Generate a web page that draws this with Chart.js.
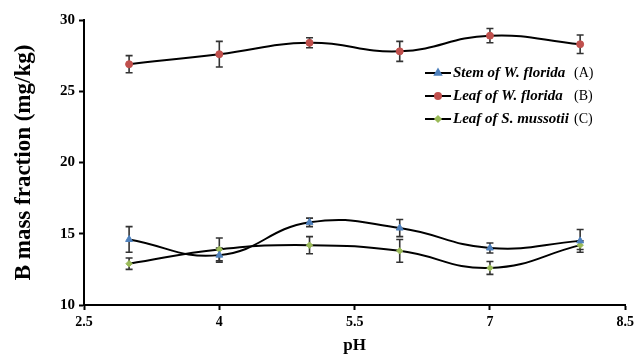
<!DOCTYPE html>
<html>
<head>
<meta charset="utf-8">
<script src="https://cdn.jsdelivr.net/npm/chart.js@4/dist/chart.umd.min.js"></script>
<style>
html,body{margin:0;padding:0;background:#fff;}
#wrap{width:638px;height:356px;position:relative;}
</style>
</head>
<body>
<div id="wrap"><canvas id="c" width="638" height="356"></canvas></div>
<script>
const phValues = [3, 4, 5, 6, 7, 8];
const stemA = [14.6, 13.5, 15.8, 15.4, 14.0, 14.5];
const stemAErr = [0.9, 0.5, 0.3, 0.6, 0.35, 0.8];
const leafB = [26.9, 27.6, 28.4, 27.8, 28.9, 28.3];
const leafBErr = [0.6, 0.9, 0.35, 0.7, 0.5, 0.65];
const leafC = [12.9, 13.9, 14.2, 13.8, 12.6, 14.2];
const leafCErr = [0.4, 0.8, 0.6, 0.8, 0.45, 0.3];
const seriesNames = ['Stem of W. florida', 'Leaf of W. florida', 'Leaf of S. mussotii'];
const seriesTags = ['(A)', '(B)', '(C)'];
const xTicks = [2.5, 4, 5.5, 7, 8.5];
const yTicks = [10, 15, 20, 25, 30];
const xTitle = 'pH';
const yTitle = 'B mass fraction (mg/kg)';

const SERIF = '"Liberation Serif", "Times New Roman", serif';

function pts(vals){ return phValues.map((x,i)=>({x:x, y:vals[i]})); }

const errors = [stemAErr, leafBErr, leafCErr];

const errorBarPlugin = {
  id: 'errorBars',
  beforeDatasetsDraw(chart){
    const ctx = chart.ctx;
    const xs = chart.scales.x, ys = chart.scales.y;
    ctx.save();
    ctx.strokeStyle = '#333';
    ctx.lineWidth = 1.6;
    chart.data.datasets.forEach((ds, di)=>{
      const err = errors[di];
      ds.data.forEach((p, i)=>{
        const px = xs.getPixelForValue(p.x);
        const top = ys.getPixelForValue(p.y + err[i]);
        const bot = ys.getPixelForValue(p.y - err[i]);
        ctx.beginPath();
        ctx.moveTo(px, top); ctx.lineTo(px, bot);
        ctx.moveTo(px-3.5, top); ctx.lineTo(px+3.5, top);
        ctx.moveTo(px-3.5, bot); ctx.lineTo(px+3.5, bot);
        ctx.stroke();
      });
    });
    ctx.restore();
  }
};

const legendPlugin = {
  id: 'customLegend',
  afterDraw(chart){
    const ctx = chart.ctx;
    const ca = chart.chartArea;
    const x0 = ca.left + 341;
    const y0 = ca.top + 53;
    const gap = 23;
    ctx.save();
    chart.data.datasets.forEach((ds, i)=>{
      const y = y0 + i*gap;
      ctx.strokeStyle = '#000';
      ctx.lineWidth = 2;
      ctx.beginPath();
      ctx.moveTo(x0, y); ctx.lineTo(x0+26, y);
      ctx.stroke();
      ctx.fillStyle = ds.pointBackgroundColor;
      ctx.strokeStyle = ds.pointBorderColor;
      Chart.helpers.drawPoint(ctx, {pointStyle: ds.pointStyle, radius: ds.pointRadius - 0.5, borderWidth: 1, rotation: 0}, x0+13, y);
      ctx.fillStyle = '#000';
      ctx.textBaseline = 'middle';
      ctx.textAlign = 'left';
      ctx.font = 'italic bold 15px ' + SERIF;
      ctx.fillText(seriesNames[i], x0+28, y);
      ctx.font = '14px ' + SERIF;
      ctx.fillText(seriesTags[i], x0+149, y);
    });
    ctx.restore();
  }
};

const lineCommon = {
  borderColor: '#000',
  borderWidth: 2,
  tension: 0.45,
  fill: false,
  pointBorderWidth: 1
};

new Chart(document.getElementById('c'), {
  type: 'line',
  data: {
    datasets: [
      Object.assign({}, lineCommon, {
        label: seriesNames[0] + ' ' + seriesTags[0],
        data: pts(stemA),
        pointStyle: 'triangle',
        pointRadius: 4,
        pointBackgroundColor: '#4F81BD',
        pointBorderColor: '#4F81BD'
      }),
      Object.assign({}, lineCommon, {
        label: seriesNames[1] + ' ' + seriesTags[1],
        data: pts(leafB),
        pointStyle: 'circle',
        pointRadius: 3.5,
        pointBackgroundColor: '#C0504D',
        pointBorderColor: '#C0504D'
      }),
      Object.assign({}, lineCommon, {
        label: seriesNames[2] + ' ' + seriesTags[2],
        data: pts(leafC),
        pointStyle: 'rectRot',
        pointRadius: 3.2,
        pointBackgroundColor: '#9BBB59',
        pointBorderColor: '#9BBB59'
      })
    ]
  },
  options: {
    responsive: false,
    animation: false,
    layout: { padding: { left: 0, right: 9, top: 20, bottom: 0 } },
    plugins: { legend: { display: false }, tooltip: { enabled: false } },
    scales: {
      x: {
        type: 'linear',
        min: 2.5, max: 8.5,
        afterBuildTicks(s){ s.ticks = xTicks.map(v=>({value:v})); },
        ticks: {
          color: '#000',
          font: { family: SERIF, weight: 'bold', size: 14 },
          padding: 4,
          callback: v => String(v)
        },
        grid: { drawOnChartArea: false, drawTicks: true, tickLength: 5, color: '#000', tickWidth: 2 },
        border: { color: '#000', width: 2 },
        title: { display: true, text: xTitle, color: '#000', font: { family: SERIF, weight: 'bold', size: 17 }, padding: { top: 2, bottom: 0 } },
        afterFit(s){ s.height = 51; }
      },
      y: {
        min: 10, max: 30,
        afterBuildTicks(s){ s.ticks = yTicks.map(v=>({value:v})); },
        ticks: {
          color: '#000',
          font: { family: SERIF, weight: 'bold', size: 15 },
          padding: 4
        },
        grid: { drawOnChartArea: false, drawTicks: true, tickLength: 5, color: '#000', tickWidth: 2 },
        border: { color: '#000', width: 2 },
        title: { display: true, text: yTitle, color: '#000', font: { family: SERIF, weight: 'bold', size: 23 }, padding: { top: 10, bottom: 4 } },
        afterFit(s){ s.width = 84; }
      }
    }
  },
  plugins: [errorBarPlugin, legendPlugin]
});
</script>
</body>
</html>
